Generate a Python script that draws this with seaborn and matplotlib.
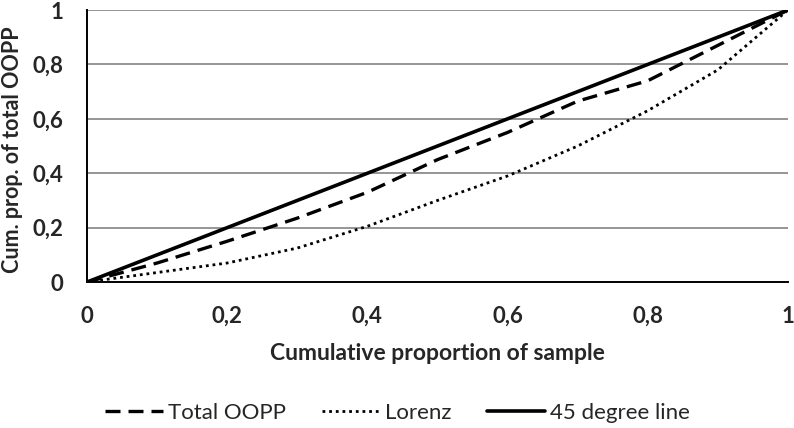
import matplotlib
matplotlib.use("Agg")
import matplotlib.pyplot as plt
import seaborn as sns
import pandas as pd

# cumulative proportion of sample (deciles)
sample_prop = [0, 0.1, 0.2, 0.3, 0.4, 0.5, 0.6, 0.7, 0.8, 0.9, 1.0]
total_oopp = [0, 0.07, 0.15, 0.235, 0.33, 0.45, 0.55, 0.665, 0.74, 0.87, 1.0]
lorenz = [0, 0.035, 0.07, 0.125, 0.205, 0.30, 0.39, 0.50, 0.63, 0.78, 1.0]
equality = [0, 0.1, 0.2, 0.3, 0.4, 0.5, 0.6, 0.7, 0.8, 0.9, 1.0]
tick_vals = [0, 0.2, 0.4, 0.6, 0.8, 1]
tick_labels = ["0", "0,2", "0,4", "0,6", "0,8", "1"]

df = pd.DataFrame({"x": sample_prop, "Total OOPP": total_oopp,
                   "Lorenz": lorenz, "45 degree line": equality})

sns.set_style("white")
plt.rcParams["font.family"] = ["Lato", "DejaVu Sans"]

fig = plt.figure(figsize=(7.94, 4.28), dpi=100)
ax = fig.add_axes([0.1096, 0.341, 0.8828, 0.6356])

for y in tick_vals[1:]:
    ax.axhline(y, color="#8c8c8c", lw=1.3, zorder=0)

sns.lineplot(data=df, x="x", y="Total OOPP", ax=ax, color="black", lw=2.4,
             linestyle=(0, (4.5, 2.4)), label="Total OOPP")
sns.lineplot(data=df, x="x", y="Lorenz", ax=ax, color="black", lw=2.0,
             linestyle=(0, (1, 1.4)), label="Lorenz")
sns.lineplot(data=df, x="x", y="45 degree line", ax=ax, color="black", lw=2.6,
             linestyle="-", label="45 degree line")

ax.set_xlim(0, 1)
ax.set_ylim(0, 1)
ax.set_xticks(tick_vals)
ax.set_xticklabels(tick_labels, fontsize=16, fontweight="bold")
ax.set_yticks(tick_vals)
ax.set_yticklabels(tick_labels, fontsize=16, fontweight="bold")
ax.tick_params(axis="both", which="both", direction="out", length=6, width=1.2,
               color="black")
ax.tick_params(axis="x", pad=11)
ax.tick_params(axis="y", pad=11)

for side in ["top", "right"]:
    ax.spines[side].set_visible(False)
for side in ["left", "bottom"]:
    ax.spines[side].set_color("black")
    ax.spines[side].set_linewidth(1.4)

ax.set_xlabel("Cumulative proportion of sample", fontsize=16.5, fontweight="bold")
ax.xaxis.set_label_coords(0.5, -0.261)
ax.xaxis.label.set_verticalalignment("center")
ax.set_ylabel("Cum. prop. of total OOPP", fontsize=15.5, fontweight="bold")
ax.yaxis.set_label_coords(-0.106, 0.485)
ax.yaxis.label.set_verticalalignment("center")

ax.legend(loc="center", bbox_to_anchor=(0.443, -0.482), ncol=3, frameon=False,
          fontsize=16, handlelength=2.6, columnspacing=1.6, handletextpad=0.25,
          borderaxespad=0, borderpad=0)

fig.savefig("out.png", dpi=100)
